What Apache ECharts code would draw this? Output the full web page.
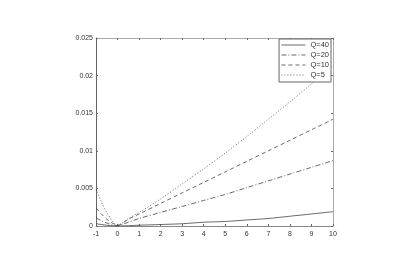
<!DOCTYPE html>
<html>
<head>
<meta charset="utf-8">
<script src="https://cdn.jsdelivr.net/npm/echarts@6/dist/echarts.min.js"></script>
<style>html,body{margin:0;padding:0;background:#fff;}#c{width:419px;height:272px;}</style>
</head>
<body>
<div id="c"></div>
<script>
var xs = [-1, -0.75, -0.5, -0.25, 0, 0.5, 1, 2, 3, 4, 5, 6, 7, 8, 9, 10];
var q40 = [0.0003, 0.0002, 0.0001, 0.00003, 0.0, 0.00004, 0.0001, 0.0002, 0.0003, 0.0005, 0.0006, 0.0008, 0.0010, 0.0013, 0.0016, 0.0019];
var q20 = [0.0011, 0.0007, 0.0004, 0.00015, 0.00005, 0.0005, 0.0010, 0.0018, 0.0026, 0.0034, 0.0042, 0.0051, 0.0060, 0.0069, 0.0078, 0.0087];
var q10 = [0.0024, 0.0016, 0.0009, 0.0004, 0.0001, 0.0009, 0.0016, 0.0030, 0.0044, 0.0058, 0.0072, 0.0086, 0.0100, 0.0114, 0.0128, 0.0142];
var q5  = [0.0049, 0.0032, 0.0018, 0.0007, 0.0001, 0.0010, 0.0018, 0.0036, 0.0056, 0.0076, 0.0097, 0.0119, 0.0142, 0.0165, 0.0189, 0.0213];
var names = ['Q=40', 'Q=20', 'Q=10', 'Q=5'];
var dashes = ['solid', [5, 2, 1, 2], [4, 3], [1, 2]];
var sets = [q40, q20, q10, q5];

function pairs(ys){ return xs.map(function(x,i){ return [x, ys[i]]; }); }

var font = '"Liberation Sans", Arial, sans-serif';
var series = sets.map(function(s, i){
  return {
    name: names[i], type: 'line', data: pairs(s), symbol: 'none', smooth: 0.3,
    xAxisIndex: 0, yAxisIndex: 0,
    lineStyle: { color: '#444', width: 0.8, type: dashes[i] },
    itemStyle: { color: '#444' }
  };
});

var chart = echarts.init(document.getElementById('c'));
chart.setOption({
  animation: false,
  backgroundColor: '#fff',
  grid: { left: 96, right: 86, top: 38, bottom: 46 },
  legend: {
    data: names, orient: 'vertical', right: 88, top: 39,
    backgroundColor: '#fff', borderColor: '#666', borderWidth: 1,
    padding: [2, 2, 3, 2], itemWidth: 24, itemHeight: 7, itemGap: 2,
    itemStyle: { opacity: 0 },
    lineStyle: { width: 0.8 },
    textStyle: { fontFamily: font, fontSize: 7.5, color: '#333' }
  },
  xAxis: [{
    type: 'value', min: -1, max: 10, interval: 1,
    axisLine: { onZero: false, lineStyle: { color: '#888', width: 1 } },
    axisTick: { inside: true, length: 2, lineStyle: { color: '#666' } },
    axisLabel: { fontFamily: font, fontSize: 7, color: '#333', margin: 5 },
    splitLine: { show: false }
  }, {
    type: 'value', position: 'top', min: -1, max: 10, interval: 1,
    axisLine: { show: true, onZero: false, lineStyle: { color: '#aaa', width: 1 } },
    axisTick: { show: true, inside: true, length: 2, lineStyle: { color: '#666' } },
    axisLabel: { show: false }, splitLine: { show: false }
  }],
  yAxis: [{
    type: 'value', min: 0, max: 0.025, interval: 0.005,
    axisLine: { show: true, onZero: false, lineStyle: { color: '#666', width: 1 } },
    axisTick: { show: true, inside: true, length: 2, lineStyle: { color: '#666' } },
    axisLabel: { fontFamily: font, fontSize: 7, color: '#333', margin: 3 },
    splitLine: { show: false }
  }, {
    type: 'value', position: 'right', min: 0, max: 0.025, interval: 0.005,
    axisLine: { show: true, onZero: false, lineStyle: { color: '#aaa', width: 1 } },
    axisTick: { show: true, inside: true, length: 2, lineStyle: { color: '#666' } },
    axisLabel: { show: false }, splitLine: { show: false }
  }],
  series: series
});
</script>
</body>
</html>
